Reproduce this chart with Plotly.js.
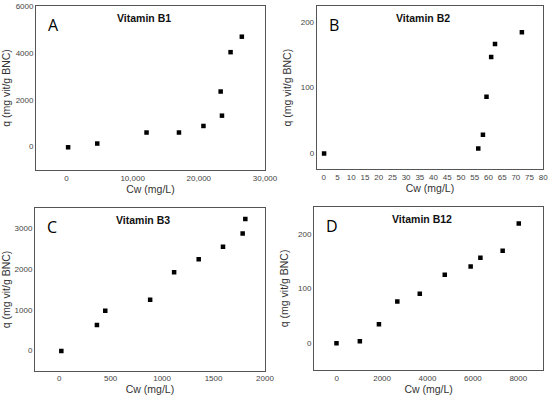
<!DOCTYPE html>
<html>
<head>
<meta charset="utf-8">
<script src="https://cdn.plot.ly/plotly-3.0.1.min.js"></script>
<style>html,body{margin:0;padding:0;background:#fff;}#chart{width:550px;height:395px;}</style>
</head>
<body>
<div id="chart"></div>
<script>
// Vitamin B1
const b1_x = [250, 4650, 12100, 17000, 20700, 23300, 23500, 24800, 26500];
const b1_y = [-30, 130, 600, 600, 880, 2350, 1320, 4030, 4690];
// Vitamin B2
const b2_x = [0.1, 56.3, 58, 59.3, 61, 62.4, 72.2];
const b2_y = [-1, 7, 28, 86, 147, 167, 185];
// Vitamin B3
const b3_x = [21, 367, 448, 884, 1117, 1356, 1592, 1783, 1809];
const b3_y = [-17, 628, 978, 1247, 1924, 2242, 2550, 2878, 3235];
// Vitamin B12
const b12_x = [-9, 1020, 1860, 2670, 3660, 4760, 5900, 6330, 7310, 8020];
const b12_y = [-1, 3, 34, 76, 90, 125, 140, 156, 169, 219];

const panelTitles = ["Vitamin B1", "Vitamin B2", "Vitamin B3", "Vitamin B12"];
const panelLetters = ["A", "B", "C", "D"];
const xTitle = "Cw (mg/L)";
const yTitle = "q (mg vit/g BNC)";

const mk = {symbol: "square", size: 4.5, color: "#000"};
const traces = [
  {x: b1_x, y: b1_y, xaxis: "x", yaxis: "y"},
  {x: b2_x, y: b2_y, xaxis: "x2", yaxis: "y2"},
  {x: b3_x, y: b3_y, xaxis: "x3", yaxis: "y3"},
  {x: b12_x, y: b12_y, xaxis: "x4", yaxis: "y4"}
].map(t => Object.assign(t, {type: "scatter", mode: "markers", marker: mk, showlegend: false, hoverinfo: "none"}));

const tickFont = {family: "Liberation Sans, Arial, sans-serif", size: 8, color: "#444"};
const titleFont = {family: "Liberation Sans, Arial, sans-serif", size: 10.5, color: "#333"};
function ax(extra) {
  return Object.assign({
    showline: true, mirror: true, linecolor: "#555", linewidth: 1,
    showgrid: false, zeroline: false, ticks: "", tickfont: tickFont,
    fixedrange: true
  }, extra);
}

const doms = {
  x: [[0.0655, 0.4818], [0.5758, 0.9878], [0.0636, 0.4818], [0.5709, 0.9878]],
  y: [[0.5696, 0.9848], [0.5714, 0.9848], [0.0615, 0.4727], [0.0633, 0.4767]]
};

const layout = {
  width: 550, height: 395,
  margin: {l: 0, r: 0, t: 0, b: 0},
  paper_bgcolor: "#fff", plot_bgcolor: "#fff",
  xaxis: ax({domain: doms.x[0], anchor: "y", range: [-4600, 30000], tickvals: [0, 10000, 20000, 30000], tickformat: ",d", title: {text: xTitle, font: titleFont, standoff: 2}}),
  yaxis: ax({domain: doms.y[0], anchor: "x", range: [-1000, 6000], tickvals: [0, 2000, 4000, 6000], tickformat: "d", title: {text: yTitle, font: titleFont, standoff: 7}}),
  xaxis2: ax({domain: doms.x[1], anchor: "y2", range: [-2.6, 80], dtick: 5, tick0: 0, title: {text: xTitle, font: titleFont, standoff: 2}}),
  yaxis2: ax({domain: doms.y[1], anchor: "x2", range: [-25, 225], tickvals: [0, 100, 200], title: {text: yTitle, font: titleFont, standoff: 7}}),
  xaxis3: ax({domain: doms.x[2], anchor: "y3", range: [-235, 2000], tickvals: [0, 500, 1000, 1500, 2000], title: {text: xTitle, font: titleFont, standoff: 2}}),
  yaxis3: ax({domain: doms.y[2], anchor: "x3", range: [-500, 3500], tickvals: [0, 1000, 2000, 3000], title: {text: yTitle, font: titleFont, standoff: 7}}),
  xaxis4: ax({domain: doms.x[3], anchor: "y4", range: [-1000, 9100], tickvals: [0, 2000, 4000, 6000, 8000], title: {text: xTitle, font: titleFont, standoff: 2}}),
  yaxis4: ax({domain: doms.y[3], anchor: "x4", range: [-50, 250], tickvals: [0, 100, 200], title: {text: yTitle, font: titleFont, standoff: 7}}),
  annotations: []
};

for (let i = 0; i < 4; i++) {
  const xd = doms.x[i], yd = doms.y[i];
  layout.annotations.push({
    xref: "paper", yref: "paper",
    x: (xd[0] + xd[1]) / 2 - 0.012, y: yd[1] - 0.01,
    xanchor: "center", yanchor: "top", showarrow: false,
    text: "<b>" + panelTitles[i] + "</b>",
    font: {family: "Liberation Sans, Arial, sans-serif", size: 10.5, color: "#111"}
  });
  layout.annotations.push({
    xref: "paper", yref: "paper",
    x: xd[0] + 0.018, y: yd[1] - 0.015,
    xanchor: "left", yanchor: "top", showarrow: false,
    text: panelLetters[i],
    font: {family: "Open Sans, sans-serif", size: 16, color: "#000"}
  });
}

Plotly.newPlot("chart", traces, layout, {staticPlot: true, displayModeBar: false});
</script>
</body>
</html>
